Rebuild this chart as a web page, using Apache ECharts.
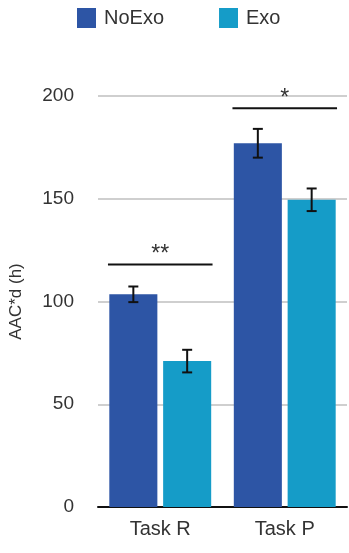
<!DOCTYPE html>
<html>
<head>
<meta charset="utf-8">
<script src="https://cdn.jsdelivr.net/npm/echarts@6/dist/echarts.min.js"></script>
<style>
  html, body { margin: 0; padding: 0; background: #fff; }
  #chart { width: 349px; height: 553px; }
</style>
</head>
<body>
<div id="chart"></div>
<script>
// data
var categories = ['Task R', 'Task P'];
var noExoValues = [103.5, 177];
var exoValues = [71, 149.5];
var noExoErr = [3.8, 7];
var exoErr = [5.5, 5.5];
var sigLevels = [118, 194];
var sigLabels = ['**', '*'];
var yTicks = [0, 50, 100, 150, 200];

var barWidthFrac = 0.386;
var barGapFrac = 0.12;

// error bar items: [category index, low, high, side]
function errData(vals, errs, side) {
  var out = [];
  for (var i = 0; i < vals.length; i++) {
    out.push([i, vals[i] - errs[i], vals[i] + errs[i], side]);
  }
  return out;
}

function renderErr(params, api) {
  var catW = api.size([1, 0])[0];
  var off = api.value(3) * catW * barWidthFrac * (1 + barGapFrac) / 2;
  var lo = api.coord([api.value(0), api.value(1)]);
  var hi = api.coord([api.value(0), api.value(2)]);
  var x = lo[0] + off;
  var cap = 5;
  var st = { stroke: '#111', lineWidth: 2 };
  return {
    type: 'group',
    children: [
      { type: 'line', shape: { x1: x, y1: lo[1], x2: x, y2: hi[1] }, style: st },
      { type: 'line', shape: { x1: x - cap, y1: lo[1], x2: x + cap, y2: lo[1] }, style: st },
      { type: 'line', shape: { x1: x - cap, y1: hi[1], x2: x + cap, y2: hi[1] }, style: st }
    ]
  };
}

var sigData = [];
for (var i = 0; i < sigLevels.length; i++) {
  sigData.push([i, sigLevels[i], sigLabels[i]]);
}

function renderSig(params, api) {
  var catW = api.size([1, 0])[0];
  var p = api.coord([api.value(0), api.value(1)]);
  return {
    type: 'group',
    children: [
      { type: 'line', shape: { x1: p[0] - catW * 0.42, y1: p[1], x2: p[0] + catW * 0.42, y2: p[1] },
        style: { stroke: '#111', lineWidth: 2 } },
      { type: 'text', x: p[0], y: p[1] + 2,
        style: { text: sigLabels[params.dataIndex], fill: '#333', font: '23px Liberation Sans', align: 'center', verticalAlign: 'bottom' } }
    ]
  };
}

var chart = echarts.init(document.getElementById('chart'));
var option = {
  backgroundColor: '#fff',
  animation: false,
  legend: {
    top: 3,
    left: 72,
    itemWidth: 19,
    itemHeight: 20,
    itemGap: 55,
    icon: 'rect',
    textStyle: { fontSize: 20, color: '#333', fontFamily: 'Liberation Sans', padding: [0, 0, 0, 3] },
    data: ['NoExo', 'Exo']
  },
  grid: { left: 96, right: 2, top: 96, bottom: 46 },
  xAxis: {
    type: 'category',
    data: categories,
    axisLine: { lineStyle: { color: '#111', width: 2 } },
    axisTick: { show: false },
    axisLabel: { fontSize: 20, color: '#333', fontFamily: 'Liberation Sans', margin: 12 }
  },
  yAxis: {
    type: 'value',
    min: yTicks[0],
    max: yTicks[yTicks.length - 1],
    interval: 50,
    name: 'AAC*d (h)',
    nameLocation: 'middle',
    nameGap: 73,
    nameTextStyle: { fontSize: 17, color: '#333', fontFamily: 'Liberation Sans' },
    axisLine: { show: false },
    axisTick: { show: false },
    axisLabel: { fontSize: 19, color: '#333', fontFamily: 'Liberation Sans', margin: 24 },
    splitLine: { lineStyle: { color: '#cfcfcf', width: 2 } }
  },
  series: [
    {
      name: 'NoExo', type: 'bar', data: noExoValues,
      barWidth: (barWidthFrac * 100) + '%', barGap: (barGapFrac * 100) + '%',
      itemStyle: { color: '#2d55a5' }
    },
    {
      name: 'Exo', type: 'bar', data: exoValues,
      barWidth: (barWidthFrac * 100) + '%', barGap: (barGapFrac * 100) + '%',
      itemStyle: { color: '#159cc8' }
    },
    { type: 'custom', renderItem: renderErr, data: errData(noExoValues, noExoErr, -1), z: 5 },
    { type: 'custom', renderItem: renderErr, data: errData(exoValues, exoErr, 1), z: 5 },
    { type: 'custom', renderItem: renderSig, data: sigData, clip: false, z: 5 }
  ]
};
chart.setOption(option);
</script>
</body>
</html>
